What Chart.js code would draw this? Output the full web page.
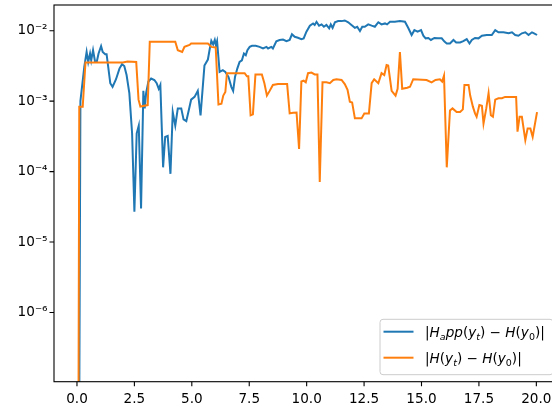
<!DOCTYPE html>
<html>
<head>
<meta charset="utf-8">
<script src="https://cdn.jsdelivr.net/npm/chart.js@4.4.1/dist/chart.umd.min.js"></script>
<style>
  html, body { margin: 0; padding: 0; background: #fff; overflow: hidden; }
  #wrap { position: relative; width: 562px; height: 409px; }
</style>
</head>
<body>
<div id="wrap"><canvas id="errChart"></canvas></div>
<script>
// |H_app(y_t) - H(y_0)| : [t, error]
const hAppErr = [
  [0, 1e-16], [0.15, 1.0e-3], [0.32, 3.1e-3], [0.42, 5.0e-3], [0.49, 3.6e-3], [0.57, 4.75e-3],
  [0.62, 3.8e-3], [0.70, 5.3e-3], [0.79, 3.6e-3], [0.86, 3.6e-3], [0.94, 4.75e-3], [1.05, 6.05e-3],
  [1.12, 5.0e-3], [1.23, 4.65e-3], [1.29, 4.65e-3], [1.45, 1.8e-3], [1.55, 1.6e-3], [1.70, 2.05e-3],
  [1.85, 2.9e-3], [1.96, 3.35e-3], [2.06, 3.15e-3], [2.16, 2.35e-3], [2.28, 1.3e-3], [2.40, 3.5e-4],
  [2.50, 2.7e-5], [2.60, 3.5e-4], [2.69, 4.5e-4], [2.79, 3.0e-5], [2.89, 1.4e-3], [2.95, 7.9e-4],
  [3.01, 1.3e-3], [3.11, 1.9e-3], [3.23, 2.1e-3], [3.37, 2.0e-3], [3.47, 1.8e-3], [3.56, 1.5e-3],
  [3.63, 1.7e-3], [3.75, 1.15e-4], [3.84, 3.1e-4], [3.95, 3.2e-4], [4.07, 9.3e-5], [4.17, 7.0e-4],
  [4.28, 4.5e-4], [4.39, 7.9e-4], [4.54, 7.9e-4], [4.64, 5.5e-4], [4.76, 5.2e-4], [4.87, 7.5e-4],
  [4.97, 1.05e-3], [5.12, 1.15e-3], [5.26, 1.4e-3], [5.38, 6.3e-4], [5.55, 3.2e-3], [5.70, 3.9e-3],
  [5.78, 5.5e-3], [5.85, 7.2e-3], [5.93, 6.4e-3], [6.00, 7.4e-3], [6.05, 6.2e-3], [6.10, 7.1e-3],
  [6.21, 2.6e-3], [6.35, 2.75e-3], [6.46, 2.6e-3], [6.60, 2.2e-3], [6.72, 1.6e-3], [6.80, 1.4e-3],
  [6.88, 2.2e-3], [6.98, 2.9e-3], [7.08, 3.6e-3], [7.18, 3.8e-3], [7.27, 4.75e-3], [7.35, 4.5e-3],
  [7.42, 5.3e-3], [7.52, 5.9e-3], [7.62, 6.1e-3], [7.78, 6.1e-3], [7.95, 5.9e-3], [8.10, 5.6e-3],
  [8.25, 5.9e-3], [8.32, 5.6e-3], [8.46, 5.9e-3], [8.53, 5.6e-3], [8.68, 7.1e-3], [8.82, 7.4e-3],
  [8.97, 7.5e-3], [9.12, 7.1e-3], [9.26, 7.4e-3], [9.36, 8.9e-3], [9.48, 8.2e-3], [9.62, 7.95e-3],
  [9.77, 7.6e-3], [9.87, 7.8e-3], [9.99, 9.7e-3], [10.14, 1.18e-2], [10.28, 1.27e-2], [10.35, 1.21e-2],
  [10.43, 1.34e-2], [10.54, 1.18e-2], [10.65, 1.23e-2], [10.75, 1.14e-2], [10.86, 1.21e-2], [10.98, 1.08e-2],
  [11.05, 1.23e-2], [11.13, 1.10e-2], [11.23, 1.32e-2], [11.37, 1.37e-2], [11.52, 1.37e-2], [11.66, 1.40e-2],
  [11.81, 1.32e-2], [11.95, 1.21e-2], [12.10, 1.10e-2], [12.20, 1.14e-2], [12.32, 9.9e-3], [12.42, 1.14e-2],
  [12.53, 1.14e-2], [12.68, 1.23e-2], [12.83, 1.18e-2], [12.97, 1.14e-2], [13.12, 1.32e-2], [13.26, 1.23e-2],
  [13.41, 1.27e-2], [13.50, 1.23e-2], [13.63, 1.34e-2], [13.84, 1.34e-2], [14.06, 1.37e-2], [14.28, 1.34e-2],
  [14.42, 1.10e-2], [14.57, 8.7e-3], [14.69, 1.02e-2], [14.83, 9.7e-3], [14.98, 1.02e-2], [15.08, 8.5e-3],
  [15.18, 7.8e-3], [15.30, 7.9e-3], [15.41, 7.4e-3], [15.56, 7.9e-3], [15.71, 7.8e-3], [15.88, 7.8e-3],
  [16.00, 7.0e-3], [16.10, 6.6e-3], [16.24, 6.6e-3], [16.39, 7.4e-3], [16.51, 6.8e-3], [16.68, 6.8e-3],
  [16.82, 7.1e-3], [16.97, 7.6e-3], [17.09, 6.6e-3], [17.19, 7.4e-3], [17.33, 7.9e-3], [17.48, 7.8e-3],
  [17.63, 8.5e-3], [17.84, 8.7e-3], [18.06, 8.7e-3], [18.21, 1.02e-2], [18.35, 9.5e-3], [18.57, 9.5e-3],
  [18.79, 9.2e-3], [18.94, 9.5e-3], [19.08, 8.7e-3], [19.22, 8.5e-3], [19.37, 9.2e-3], [19.52, 9.5e-3],
  [19.66, 8.7e-3], [19.81, 9.5e-3], [19.90, 9.2e-3], [20.03, 8.7e-3]
];

// |H(y_t) - H(y_0)| : [t, error]
const hErr = [
  [0, 1e-16], [0.10, 8.3e-4], [0.25, 8.3e-4], [0.37, 3.55e-3], [2.00, 3.55e-3], [2.20, 3.65e-3],
  [2.58, 3.6e-3], [2.68, 1.05e-3], [2.76, 8.4e-4], [3.08, 8.8e-4], [3.17, 7.0e-3], [4.28, 7.0e-3],
  [4.39, 5.3e-3], [4.58, 5.0e-3], [4.68, 5.9e-3], [4.90, 6.3e-3], [4.97, 6.6e-3], [5.70, 6.6e-3],
  [5.85, 5.9e-3], [6.04, 5.8e-3], [6.16, 9.0e-4], [6.29, 9.2e-4], [6.37, 1.2e-3], [6.46, 1.35e-3],
  [6.53, 2.5e-3], [7.30, 2.5e-3], [7.40, 2.25e-3], [7.46, 2.25e-3], [7.56, 6.3e-4], [7.66, 6.5e-4],
  [7.77, 2.4e-3], [8.05, 2.4e-3], [8.16, 1.8e-3], [8.27, 1.2e-3], [8.39, 1.4e-3], [8.53, 1.7e-3],
  [8.75, 1.75e-3], [9.15, 1.75e-3], [9.26, 6.7e-4], [9.41, 6.85e-4], [9.56, 6.9e-4], [9.67, 2.1e-4],
  [9.77, 1.9e-3], [9.87, 1.95e-3], [9.96, 1.85e-3], [10.06, 2.5e-3], [10.21, 2.55e-3], [10.35, 2.4e-3],
  [10.47, 2.4e-3], [10.57, 7.1e-5], [10.69, 1.85e-3], [10.86, 1.85e-3], [11.01, 1.8e-3], [11.16, 2.0e-3],
  [11.30, 2.05e-3], [11.52, 2.0e-3], [11.66, 1.75e-3], [11.78, 1.45e-3], [11.88, 9.8e-4], [11.98, 9.6e-4],
  [12.10, 5.7e-4], [12.39, 5.7e-4], [12.51, 6.7e-4], [12.71, 6.7e-4], [12.83, 1.8e-3], [12.94, 2.05e-3],
  [13.12, 1.8e-3], [13.26, 2.5e-3], [13.38, 2.35e-3], [13.48, 3.25e-3], [13.55, 3.2e-3], [13.70, 1.4e-3],
  [13.87, 1.2e-3], [13.96, 1.5e-3], [14.06, 5.0e-3], [14.16, 1.5e-3], [14.38, 1.55e-3], [14.50, 1.6e-3],
  [14.64, 2.05e-3], [15.22, 2.0e-3], [15.44, 1.85e-3], [15.61, 2.0e-3], [15.80, 2.05e-3], [15.90, 1.9e-3],
  [15.98, 2.3e-3], [16.10, 1.15e-4], [16.24, 7.4e-4], [16.35, 7.9e-4], [16.53, 7.0e-4], [16.68, 7.0e-4],
  [16.80, 7.65e-4], [16.87, 1.7e-3], [17.05, 1.7e-3], [17.12, 1.2e-3], [17.24, 8.3e-4], [17.33, 6.7e-4],
  [17.40, 6.0e-4], [17.52, 8.8e-4], [17.63, 8.6e-4], [17.70, 4.8e-4], [17.82, 7.9e-4], [17.92, 1.3e-3],
  [18.02, 6.3e-4], [18.11, 6.0e-4], [18.21, 1.05e-3], [18.35, 1.1e-3], [18.50, 1.1e-3], [18.64, 1.15e-3],
  [19.12, 1.15e-3], [19.18, 3.7e-4], [19.27, 6.0e-4], [19.37, 6.0e-4], [19.52, 2.8e-4], [19.62, 4.1e-4],
  [19.74, 4.1e-4], [19.84, 3.1e-4], [20.03, 7.0e-4]
];

const xTicks = [0, 2.5, 5, 7.5, 10, 12.5, 15, 17.5, 20];
const yDecades = [-7, -6, -5, -4, -3, -2];

// legend text as mathtext-like runs: r = roman, i = italic, s* = subscript
const legendRuns = [
  [['|', 'r'], ['H', 'i'], ['a', 'si'], ['pp', 'i'], ['(', 'r'], ['y', 'i'], ['t', 'si'], [')', 'r'],
   [' \u2212 ', 'r'], ['H', 'i'], ['(', 'r'], ['y', 'i'], ['0', 'sr'], [')|', 'r']],
  [['|', 'r'], ['H', 'i'], ['(', 'r'], ['y', 'i'], ['t', 'si'], [')', 'r'],
   [' \u2212 ', 'r'], ['H', 'i'], ['(', 'r'], ['y', 'i'], ['0', 'sr'], [')|', 'r']]
];

const X_MIN = -1.0, X_MAX = 21.03;
const Y_MIN = 1.04e-7, Y_MAX = 0.0232;
const FONT = '"DejaVu Sans", sans-serif';
const FS = 13.6;

const SUP = {'-': '\u207B', '0': '\u2070', '1': '\u00B9', '2': '\u00B2', '3': '\u00B3', '4': '\u2074',
             '5': '\u2075', '6': '\u2076', '7': '\u2077', '8': '\u2078', '9': '\u2079'};
const sup = s => String(s).split('').map(c => SUP[c]).join('');

// log ticks: 1..9 x 10^e inside the axis range
const yTickList = [];
yDecades.forEach(e => {
  for (let k = 1; k <= 9; k++) {
    const v = k * Math.pow(10, e);
    if (v >= Y_MIN && v <= Y_MAX) yTickList.push({ value: v, major: k === 1 });
  }
});

function drawRuns(ctx, runs, x, baseY) {
  runs.forEach(([text, style]) => {
    const sub = style[0] === 's';
    const italic = style.endsWith('i');
    const size = sub ? FS * 0.7 : FS;
    ctx.font = (italic ? 'italic ' : '') + size + 'px ' + FONT;
    ctx.fillText(text, x, baseY + (sub ? FS * 0.22 : 0));
    x += ctx.measureText(text).width;
  });
}

// frame, tick marks and legend box drawn on top
const axesDecor = {
  id: 'axesDecor',
  afterDraw(chart) {
    const { ctx, chartArea: a, scales: { x, y } } = chart;
    ctx.save();
    ctx.strokeStyle = '#000';

    ctx.lineWidth = 1.1;
    ctx.beginPath();
    x.ticks.forEach(t => {
      const px = x.getPixelForValue(t.value);
      ctx.moveTo(px, a.bottom);
      ctx.lineTo(px, a.bottom + 4.5);
    });
    y.ticks.filter(t => t.major).forEach(t => {
      const py = y.getPixelForValue(t.value);
      ctx.moveTo(a.left, py);
      ctx.lineTo(a.left - 4.5, py);
    });
    ctx.stroke();

    ctx.lineWidth = 0.8;
    ctx.beginPath();
    y.ticks.filter(t => !t.major).forEach(t => {
      const py = y.getPixelForValue(t.value);
      ctx.moveTo(a.left, py);
      ctx.lineTo(a.left - 2.6, py);
    });
    ctx.stroke();

    ctx.lineWidth = 1.1;
    ctx.strokeRect(a.left, a.top, a.right - a.left, a.bottom - a.top);

    // legend, lower right
    const boxW = 173, boxH = 55.4, pad = 7;
    const left = a.right - pad - boxW, top = a.bottom - pad - boxH;
    ctx.fillStyle = 'rgba(255,255,255,0.8)';
    ctx.strokeStyle = '#cccccc';
    ctx.lineWidth = 1;
    ctx.beginPath();
    ctx.roundRect(left, top, boxW, boxH, 3);
    ctx.fill();
    ctx.stroke();

    chart.data.datasets.forEach((ds, i) => {
      const cy = top + 12.4 + i * 26;
      ctx.strokeStyle = ds.borderColor;
      ctx.lineWidth = 2;
      ctx.beginPath();
      ctx.moveTo(left + 3.5, cy);
      ctx.lineTo(left + 33.5, cy);
      ctx.stroke();
      ctx.fillStyle = '#000';
      ctx.textBaseline = 'alphabetic';
      drawRuns(ctx, legendRuns[i], left + 45, cy + FS * 0.36);
    });
    ctx.restore();
  }
};

new Chart(document.getElementById('errChart'), {
  type: 'line',
  data: {
    datasets: [{
      label: '|H_app(y_t) - H(y_0)|',
      data: hAppErr.map(([t, v]) => ({ x: t, y: v })),
      borderColor: '#1f77b4',
      borderWidth: 2,
      pointRadius: 0,
      tension: 0,
      order: 1
    }, {
      label: '|H(y_t) - H(y_0)|',
      data: hErr.map(([t, v]) => ({ x: t, y: v })),
      borderColor: '#ff7f0e',
      borderWidth: 2,
      pointRadius: 0,
      tension: 0,
      order: 0
    }]
  },
  options: {
    responsive: true,
    maintainAspectRatio: false,
    animation: false,
    devicePixelRatio: 1,
    layout: { padding: { left: 0, right: 2, top: 5, bottom: 0 } },
    plugins: { legend: { display: false }, tooltip: { enabled: false } },
    scales: {
      x: {
        type: 'linear',
        min: X_MIN,
        max: X_MAX,
        afterBuildTicks: s => { s.ticks = xTicks.map(v => ({ value: v })); },
        afterFit: s => { s.height = 27.3; s.paddingLeft = 0; s.paddingRight = 0; },
        grid: { display: false, drawTicks: true, tickLength: 4.5 },
        border: { display: false },
        ticks: {
          autoSkip: false,
          maxRotation: 0,
          padding: 5,
          color: '#000',
          font: { family: FONT, size: FS },
          callback: v => v.toFixed(1)
        }
      },
      y: {
        type: 'logarithmic',
        min: Y_MIN,
        max: Y_MAX,
        afterBuildTicks: s => { s.ticks = yTickList.map(t => ({ ...t })); },
        afterFit: s => { s.width = 54; s.paddingTop = 0; s.paddingBottom = 0; },
        grid: { display: false, drawTicks: true, tickLength: 4.5 },
        border: { display: false },
        ticks: {
          autoSkip: false,
          padding: 2,
          color: '#000',
          font: { family: FONT, size: FS },
          callback: (v, i, ticks) => ticks[i].major ? '10' + sup(Math.round(Math.log10(v))) : null
        }
      }
    }
  },
  plugins: [axesDecor]
});
</script>
</body>
</html>
